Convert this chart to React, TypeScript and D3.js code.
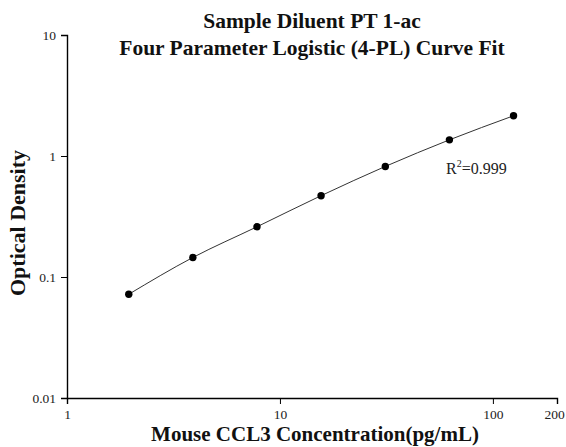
import * as d3 from "d3";
import { useEffect, useRef } from "react";

const concentrations = [1.95, 3.9, 7.8, 15.6, 31.25, 62.5, 125];
const densities = [0.072, 0.145, 0.26, 0.47, 0.82, 1.36, 2.15];
const xTicks = [1, 10, 100, 200];
const yTicks = [0.01, 0.1, 1, 10];
const yTickLabels = ["0.01", "0.1", "1", "10"];
const titleLines = ["Sample Diluent PT 1-ac", "Four Parameter Logistic (4-PL) Curve Fit"];

const width = 566;
const height = 447;
const font = "'Liberation Serif', 'Times New Roman', serif";

export default function App() {
  const svgRef = useRef<SVGSVGElement>(null);

  useEffect(() => {
    const svg = d3.select(svgRef.current);
    svg.selectAll("*").remove();

    const x = d3.scaleLog().domain([1, 200]).range([67, 557]);
    const y = d3.scaleLog().domain([0.01, 10]).range([398, 35]);

    // minor ticks
    const xMinor = [2, 3, 4, 5, 6, 7, 8, 9, 20, 30, 40, 50, 60, 70, 80, 90];
    const yMinor = [0.01, 0.1, 1].flatMap((d) => d3.range(2, 10).map((k) => +(d * k).toPrecision(3)));

    const gx = svg.append("g").attr("transform", `translate(0,${y(0.01)})`);
    gx.call(d3.axisBottom(x).tickValues(xMinor).tickSize(3).tickFormat(() => ""));
    gx.call(
      d3.axisBottom(x).tickValues(xTicks).tickSize(6).tickPadding(5).tickFormat((d) => String(d))
    );
    // keep the last label inside the page
    gx.selectAll<SVGTextElement, number>(".tick text")
      .filter((d) => d === 200)
      .attr("dx", -3);

    const gy = svg.append("g").attr("transform", `translate(${x(1)},0)`);
    gy.call(d3.axisLeft(y).tickValues(yMinor).tickSize(3).tickFormat(() => ""));
    gy.call(
      d3
        .axisLeft(y)
        .tickValues(yTicks)
        .tickSize(6)
        .tickPadding(5)
        .tickFormat((d, i) => yTickLabels[i])
    );

    svg.selectAll(".domain").attr("stroke", "#000").attr("stroke-width", 1.4);
    svg.selectAll(".tick line").attr("stroke", "#000").attr("stroke-width", 1);
    svg
      .selectAll(".tick text")
      .attr("font-family", font)
      .attr("font-size", 13.5)
      .attr("fill", "#222");

    // curve
    const pts = concentrations.map((c, i) => [c, densities[i]] as [number, number]);
    svg
      .append("path")
      .datum(pts)
      .attr("fill", "none")
      .attr("stroke", "#333")
      .attr("stroke-width", 1)
      .attr(
        "d",
        d3
          .line<[number, number]>()
          .x((d) => x(d[0]))
          .y((d) => y(d[1]))
          .curve(d3.curveMonotoneX)
      );

    svg
      .selectAll("circle.dot")
      .data(pts)
      .enter()
      .append("circle")
      .attr("class", "dot")
      .attr("cx", (d) => x(d[0]))
      .attr("cy", (d) => y(d[1]))
      .attr("r", 3.7)
      .attr("fill", "#000");

    // titles
    svg
      .selectAll("text.title")
      .data(titleLines)
      .enter()
      .append("text")
      .attr("class", "title")
      .attr("x", 312)
      .attr("y", (d, i) => 28 + i * 27)
      .attr("text-anchor", "middle")
      .attr("font-family", font)
      .attr("font-weight", "bold")
      .attr("font-size", 21.5)
      .attr("fill", "#111")
      .text((d) => d);

    svg
      .append("text")
      .attr("x", 315)
      .attr("y", 441)
      .attr("text-anchor", "middle")
      .attr("font-family", font)
      .attr("font-weight", "bold")
      .attr("font-size", 21)
      .attr("fill", "#111")
      .text("Mouse CCL3 Concentration(pg/mL)");

    svg
      .append("text")
      .attr("transform", `translate(25,223) rotate(-90)`)
      .attr("text-anchor", "middle")
      .attr("font-family", font)
      .attr("font-weight", "bold")
      .attr("font-size", 22)
      .attr("fill", "#111")
      .text("Optical Density");

    const r2 = svg
      .append("text")
      .attr("x", 446)
      .attr("y", 174)
      .attr("font-family", font)
      .attr("font-size", 16)
      .attr("fill", "#222");
    r2.append("tspan").text("R");
    r2.append("tspan").attr("dy", -7).attr("font-size", 10).text("2");
    r2.append("tspan").attr("dy", 7).text("=0.999");
  }, []);

  return (
    <svg
      ref={svgRef}
      width={width}
      height={height}
      style={{ position: "absolute", left: 0, top: 0, background: "#fff" }}
    />
  );
}
